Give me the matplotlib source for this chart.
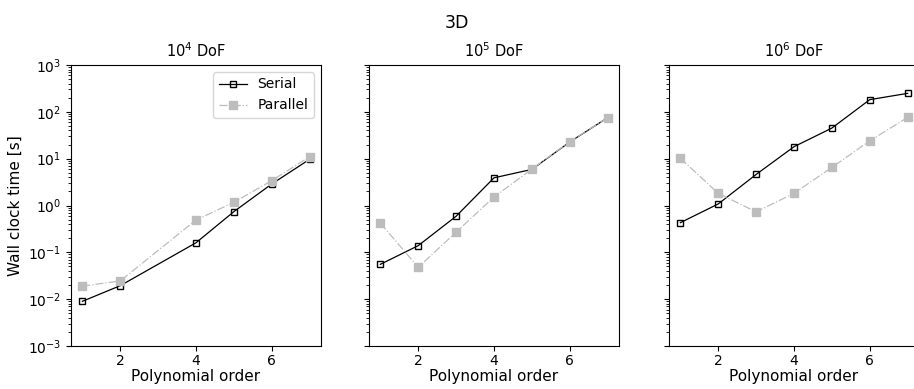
import matplotlib
matplotlib.use("Agg")
import matplotlib.pyplot as plt

# Wall clock times [s] per polynomial order, for three problem sizes
orders_1e4 = [1, 2, 4, 5, 6, 7]
serial_1e4 = [0.009, 0.0194, 0.16, 0.74, 2.88, 9.7]
parallel_1e4 = [0.019, 0.0245, 0.49, 1.17, 3.4, 11.0]

orders_1e5 = [1, 2, 3, 4, 5, 6, 7]
serial_1e5 = [0.0555, 0.139, 0.59, 3.9, 5.9, 22.7, 75.0]
parallel_1e5 = [0.42, 0.048, 0.27, 1.52, 6.0, 23.0, 75.0]

orders_1e6 = [1, 2, 3, 4, 5, 6, 7]
serial_1e6 = [0.43, 1.08, 4.6, 18.0, 45.0, 182.0, 248.0]
parallel_1e6 = [10.2, 1.82, 0.73, 1.82, 6.5, 24.0, 76.0]

titles = ["$10^4$ DoF", "$10^5$ DoF", "$10^6$ DoF"]
panels = [
    (orders_1e4, serial_1e4, parallel_1e4),
    (orders_1e5, serial_1e5, parallel_1e5),
    (orders_1e6, serial_1e6, parallel_1e6),
]

fig = plt.figure(figsize=(9.14, 3.89), dpi=100)
lefts = [71 / 914, 369 / 914, 669 / 914]
width = 250 / 914
bottom = 43 / 389
height = 281 / 389

axes = []
for left in lefts:
    ax = fig.add_axes([left, bottom, width, height],
                      sharey=axes[0] if axes else None)
    axes.append(ax)

for i, (ax, (x, s, p), title) in enumerate(zip(axes, panels, titles)):
    ax.plot(x, s, color="black", lw=0.9, marker="s", ms=5,
            mfc="none", mec="black", mew=1.0, label="Serial")
    ax.plot(x, p, color="#bdbdbd", lw=0.9, ls="-.", marker="s", ms=5.5,
            mfc="#bdbdbd", mec="#bdbdbd", label="Parallel")
    ax.set_yscale("log")
    ax.set_ylim(1e-3, 1e3)
    ax.set_xlim(0.7, 7.3)
    ax.set_xticks([2, 4, 6])
    ax.tick_params(axis="x", labelsize=10, pad=2.5)
    ax.set_title(title, fontsize=10.5)
    ax.set_xlabel("Polynomial order", fontsize=11, labelpad=0.5)
    if i == 0:
        ax.set_ylabel("Wall clock time [s]", fontsize=11)
        ax.legend(loc="upper right", fontsize=10)
    else:
        ax.tick_params(axis="y", which="both", labelleft=False)

fig.suptitle("3D", fontsize=12.5, y=0.965)
fig.savefig("out.png", dpi=100)
